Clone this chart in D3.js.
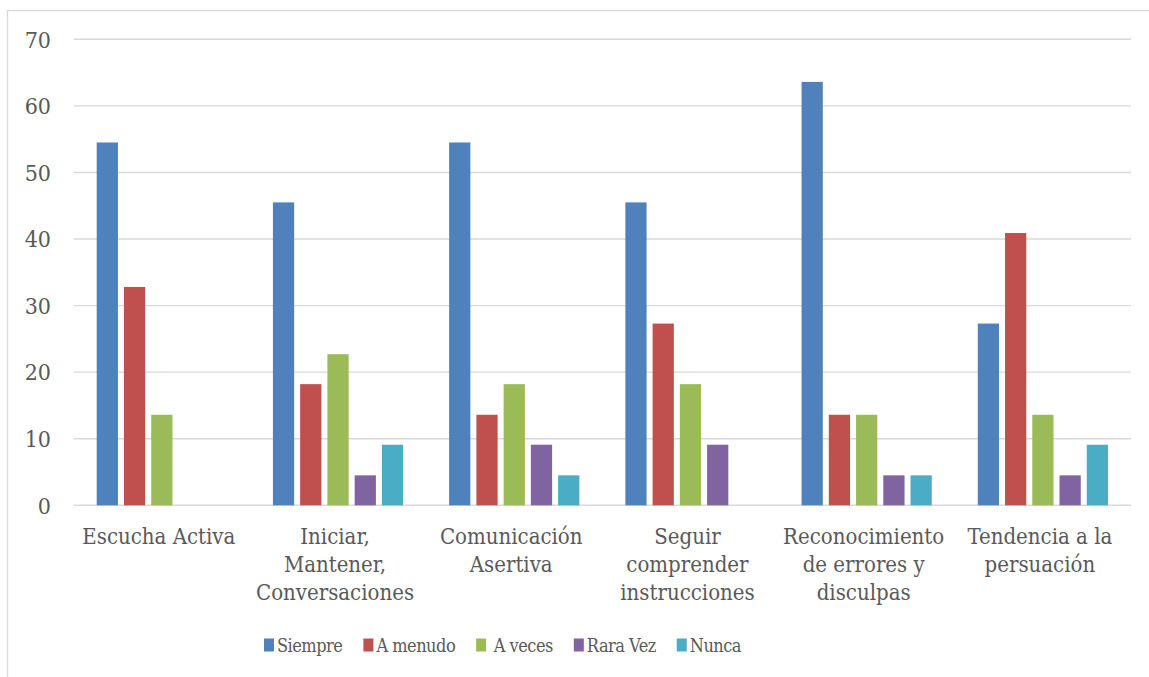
<!DOCTYPE html>
<html>
<head>
<meta charset="utf-8">
<script src="https://cdn.jsdelivr.net/npm/d3@7"></script>
<style>
    body { margin: 0; background: #fff; }
    text { font-family: "DejaVu Serif Condensed", "DejaVu Serif", serif; fill: #595959; white-space: pre; }
</style>
</head>
<body>
<svg id="chart" width="1149" height="677"></svg>
<script>
// data
const categories = [
    ["Escucha Activa"],
    ["Iniciar,", "Mantener,", "Conversaciones"],
    ["Comunicación", "Asertiva"],
    ["Seguir", "comprender", "instrucciones"],
    ["Reconocimiento", "de errores y", "disculpas"],
    ["Tendencia a la", "persuación"]
]
const seriesNames = ["Siempre", "A menudo", " A veces", "Rara Vez", "Nunca"]
const siempre = [54.5, 45.5, 54.5, 45.5, 63.6, 27.3]
const aMenudo = [32.8, 18.2, 13.6, 27.3, 13.6, 40.9]
const aVeces = [13.6, 22.7, 18.2, 18.2, 13.6, 13.6]
const raraVez = [0, 4.5, 9.1, 9.1, 4.5, 4.5]
const nunca = [0, 9.1, 4.5, 0, 4.5, 9.1]
const yTicks = [0, 10, 20, 30, 40, 50, 60, 70]

const seriesValues = [siempre, aMenudo, aVeces, raraVez, nunca]
const colors = ["#4f81bd", "#c0504d", "#9bbb59", "#8064a2", "#4bacc6"]

const svg = d3.select("#chart")
const plotLeft = 73.7, plotRight = 1131, plotTop = 39.3, plotBottom = 505.3

// outer chart border
svg.append("rect")
    .attr("x", 7.5).attr("y", 10.5)
    .attr("width", 1160).attr("height", 700)
    .attr("fill", "none")
    .attr("stroke", "#d9d9d9")
    .attr("stroke-width", 1.3)

const x0 = d3.scaleBand()
    .domain(d3.range(categories.length))
    .range([plotLeft, plotRight])
    .paddingInner(0.261)
    .paddingOuter(0.1305)

const x1 = d3.scaleBand()
    .domain(d3.range(seriesNames.length))
    .range([0, x0.bandwidth()])
    .paddingInner(0.22)

const y = d3.scaleLinear().domain([0, 70]).range([plotBottom, plotTop])

// gridlines
svg.append("g")
    .selectAll("line")
    .data(yTicks)
    .enter()
    .append("line")
    .attr("x1", plotLeft)
    .attr("x2", plotRight)
    .attr("y1", (d) => y(d))
    .attr("y2", (d) => y(d))
    .attr("stroke", "#d9d9d9")
    .attr("stroke-width", 1.4)

// y labels
svg.append("g")
    .selectAll("text")
    .data(yTicks)
    .enter()
    .append("text")
    .attr("x", 51)
    .attr("y", (d) => y(d))
    .attr("dy", "0.36em")
    .attr("text-anchor", "end")
    .style("font-size", "23px")
    .text((d) => d)

// bars
const rows = []
seriesValues.forEach((vals, s) => {
    vals.forEach((v, c) => {
        rows.push({s: s, c: c, v: v})
    })
})
svg.append("g")
    .selectAll("rect")
    .data(rows.filter((d) => d.v > 0))
    .enter()
    .append("rect")
    .attr("x", (d) => x0(d.c) + x1(d.s))
    .attr("y", (d) => y(d.v))
    .attr("width", x1.bandwidth())
    .attr("height", (d) => y(0) - y(d.v))
    .attr("fill", (d) => colors[d.s])

// category labels
const cat = svg.append("g")
    .selectAll("text")
    .data(categories)
    .enter()
    .append("text")
    .attr("text-anchor", "middle")
    .style("font-size", "22px")
cat.selectAll("tspan")
    .data((d, i) => d.map((line) => ({line: line, i: i})))
    .enter()
    .append("tspan")
    .attr("x", (d) => x0(d.i) + x0.bandwidth() / 2 - 3)
    .attr("y", (d, j) => 544 + j * 28)
    .text((d) => d.line)

// legend
const legend = svg.append("g")
let lx = 264
seriesNames.forEach((name, i) => {
    legend.append("rect")
        .attr("x", lx).attr("y", 638.5)
        .attr("width", 10).attr("height", 13)
        .attr("fill", colors[i])
    const t = legend.append("text")
        .attr("x", lx + 13)
        .attr("y", 651.5)
        .style("font-size", "18px")
        .style("letter-spacing", "-0.5px")
        .text(name)
    lx += 13 + t.node().getComputedTextLength() + 21
})
</script>
</body>
</html>
